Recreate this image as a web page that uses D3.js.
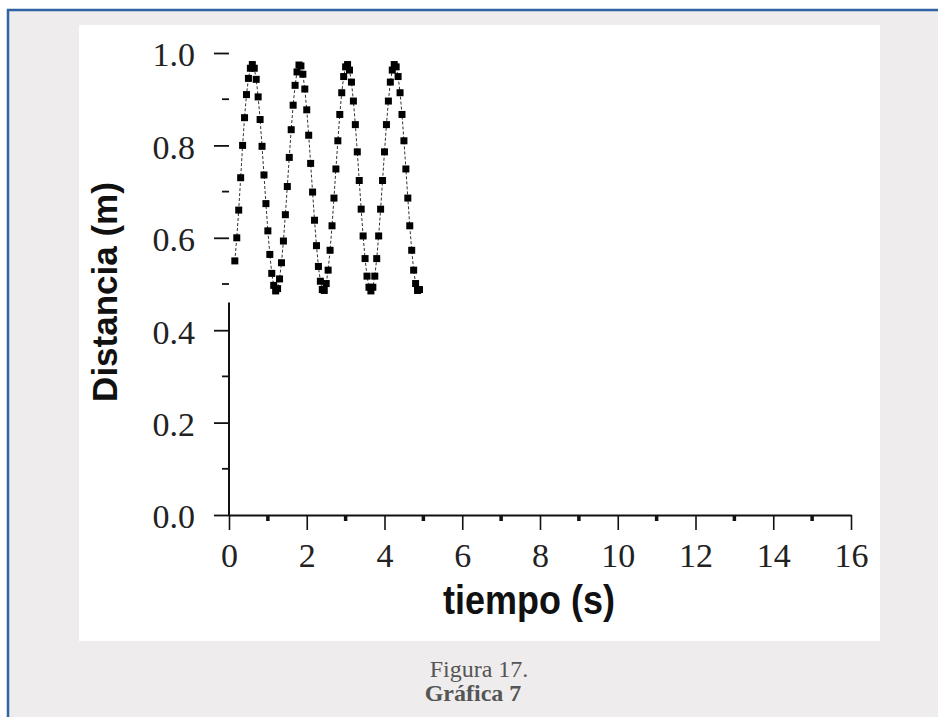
<!DOCTYPE html>
<html>
<head>
<meta charset="utf-8">
<script src="https://cdn.jsdelivr.net/npm/d3@7"></script>
<style>
  html, body { margin: 0; padding: 0; background: #fff; overflow: hidden; }
  svg { display: block; }
</style>
</head>
<body>
<svg id="chart" width="938" height="717"></svg>
<script>
// Motion-sensor record: time (s) and distance (m)
const tiempo = [
  0.15, 0.20, 0.25, 0.30, 0.35, 0.40, 0.45, 0.50, 0.55, 0.60,
  0.65, 0.70, 0.75, 0.80, 0.85, 0.90, 0.95, 1.00, 1.05, 1.10,
  1.15, 1.20, 1.25, 1.30, 1.35, 1.40, 1.45, 1.50, 1.55, 1.60,
  1.65, 1.70, 1.75, 1.80, 1.85, 1.90, 1.95, 2.00, 2.05, 2.10,
  2.15, 2.20, 2.25, 2.30, 2.35, 2.40, 2.45, 2.50, 2.55, 2.60,
  2.65, 2.70, 2.75, 2.80, 2.85, 2.90, 2.95, 3.00, 3.05, 3.10,
  3.15, 3.20, 3.25, 3.30, 3.35, 3.40, 3.45, 3.50, 3.55, 3.60,
  3.65, 3.70, 3.75, 3.80, 3.85, 3.90, 3.95, 4.00, 4.05, 4.10,
  4.15, 4.20, 4.25, 4.30, 4.35, 4.40, 4.45, 4.50, 4.55, 4.60,
  4.65, 4.70, 4.75, 4.80, 4.85, 4.90
];
const distancia = [
  0.550, 0.600, 0.660, 0.730, 0.800, 0.860, 0.910, 0.945, 0.967, 0.975,
  0.967, 0.943, 0.905, 0.856, 0.798, 0.736, 0.674, 0.615, 0.564, 0.523,
  0.497, 0.485, 0.490, 0.511, 0.546, 0.593, 0.650, 0.711, 0.774, 0.834,
  0.887, 0.930, 0.959, 0.974, 0.972, 0.954, 0.922, 0.877, 0.822, 0.761,
  0.699, 0.638, 0.583, 0.538, 0.506, 0.488, 0.486, 0.501, 0.530, 0.573,
  0.626, 0.686, 0.749, 0.810, 0.867, 0.914, 0.949, 0.970, 0.975, 0.963,
  0.937, 0.896, 0.845, 0.786, 0.724, 0.662, 0.604, 0.555, 0.517, 0.493,
  0.485, 0.493, 0.517, 0.555, 0.604, 0.662, 0.724, 0.786, 0.845, 0.896,
  0.937, 0.963, 0.975, 0.970, 0.949, 0.914, 0.867, 0.810, 0.749, 0.686,
  0.626, 0.573, 0.530, 0.501, 0.486, 0.488
];

const xTicks = [0, 2, 4, 6, 8, 10, 12, 14, 16];
const xMinorTicks = [1, 3, 5, 7, 9, 11, 13, 15];
const yTicks = [0.0, 0.2, 0.4, 0.6, 0.8, 1.0];
const yMinorTicks = [0.1, 0.3, 0.5, 0.7, 0.9];
const xTitle = "tiempo (s)";
const yTitle = "Distancia (m)";
const captionLines = ["Figura 17.", "Gráfica 7"];

const svg = d3.select("#chart");

// page frame and white figure panel
svg.append("rect")
  .attr("x", 8).attr("y", 10).attr("width", 1000).attr("height", 1000)
  .attr("fill", "#eeeced").attr("stroke", "#2f63a3").attr("stroke-width", 2.5);
svg.append("rect")
  .attr("x", 79).attr("y", 25).attr("width", 801).attr("height", 616)
  .attr("fill", "#ffffff");

const x = d3.scaleLinear().domain([0, 16]).range([229, 851]);
const y = d3.scaleLinear().domain([0, 1]).range([515, 53]);

const serif = "'Liberation Serif', 'Times New Roman', serif";
const sans = "'Liberation Sans', Arial, sans-serif";

// x axis
const gx = svg.append("g").attr("transform", `translate(0,${y(0)})`)
  .call(d3.axisBottom(x).tickValues(xTicks).tickSize(15).tickSizeOuter(0)
    .tickPadding(13).tickFormat(d3.format("d")));
gx.select(".domain").attr("stroke", "#111").attr("stroke-width", 2);
gx.selectAll(".tick line").attr("stroke", "#111").attr("stroke-width", 1.6);
gx.selectAll(".tick text").attr("font-family", serif).attr("font-size", 34)
  .attr("fill", "#222");

gx.selectAll(".minor").data(xMinorTicks).enter().append("rect")
  .attr("class", "minor")
  .attr("x", d => x(d) - 1.75).attr("y", 0).attr("width", 3.5).attr("height", 6)
  .attr("fill", "#111");

// y axis (line drawn over the lower part of the range only)
const gy = svg.append("g").attr("transform", `translate(${x(0)},0)`)
  .call(d3.axisLeft(y).tickValues(yTicks).tickSize(15).tickSizeOuter(0)
    .tickPadding(19).tickFormat(d3.format(".1f")));
gy.select(".domain").remove();
gy.selectAll(".tick line").attr("stroke", "#111").attr("stroke-width", 1.8);
gy.selectAll(".tick text").attr("font-family", serif).attr("font-size", 34)
  .attr("fill", "#222").attr("dy", "0.38em");
gy.append("line")
  .attr("x1", 0).attr("x2", 0).attr("y1", y(0)).attr("y2", y(0.46))
  .attr("stroke", "#111").attr("stroke-width", 2);
gy.selectAll(".minor").data(yMinorTicks).enter().append("line")
  .attr("class", "minor")
  .attr("x1", -7).attr("x2", 0).attr("y1", d => y(d)).attr("y2", d => y(d))
  .attr("stroke", "#111").attr("stroke-width", 1.8);

// axis titles
svg.append("text")
  .attr("transform", `translate(529,614) scale(1,1.15)`)
  .attr("text-anchor", "middle")
  .attr("font-family", sans).attr("font-weight", "bold").attr("font-size", 36)
  .attr("fill", "#111").text(xTitle);
svg.append("text")
  .attr("transform", `translate(117,292) rotate(-90)`)
  .attr("text-anchor", "middle")
  .attr("font-family", sans).attr("font-weight", "bold").attr("font-size", 35)
  .attr("fill", "#111").text(yTitle);

// data: dashed connecting line and square markers
const pts = tiempo.map((t, i) => [t, distancia[i]]);
svg.append("path").datum(pts)
  .attr("fill", "none").attr("stroke", "#333").attr("stroke-width", 1)
  .attr("stroke-dasharray", "3,2")
  .attr("d", d3.line().x(d => x(d[0])).y(d => y(d[1])));
svg.selectAll(".pt").data(pts).enter().append("rect")
  .attr("class", "pt")
  .attr("x", d => x(d[0]) - 3.5).attr("y", d => y(d[1]) - 3.5)
  .attr("width", 7).attr("height", 7).attr("fill", "#000");

// caption under the figure
svg.append("text")
  .attr("x", 479).attr("y", 677).attr("text-anchor", "middle")
  .attr("font-family", serif).attr("font-size", 24)
  .attr("fill", "#555").text(captionLines[0]);
svg.append("text")
  .attr("x", 473).attr("y", 701).attr("text-anchor", "middle")
  .attr("font-family", serif).attr("font-weight", "bold").attr("font-size", 24)
  .attr("fill", "#555").text(captionLines[1]);
</script>
</body>
</html>
